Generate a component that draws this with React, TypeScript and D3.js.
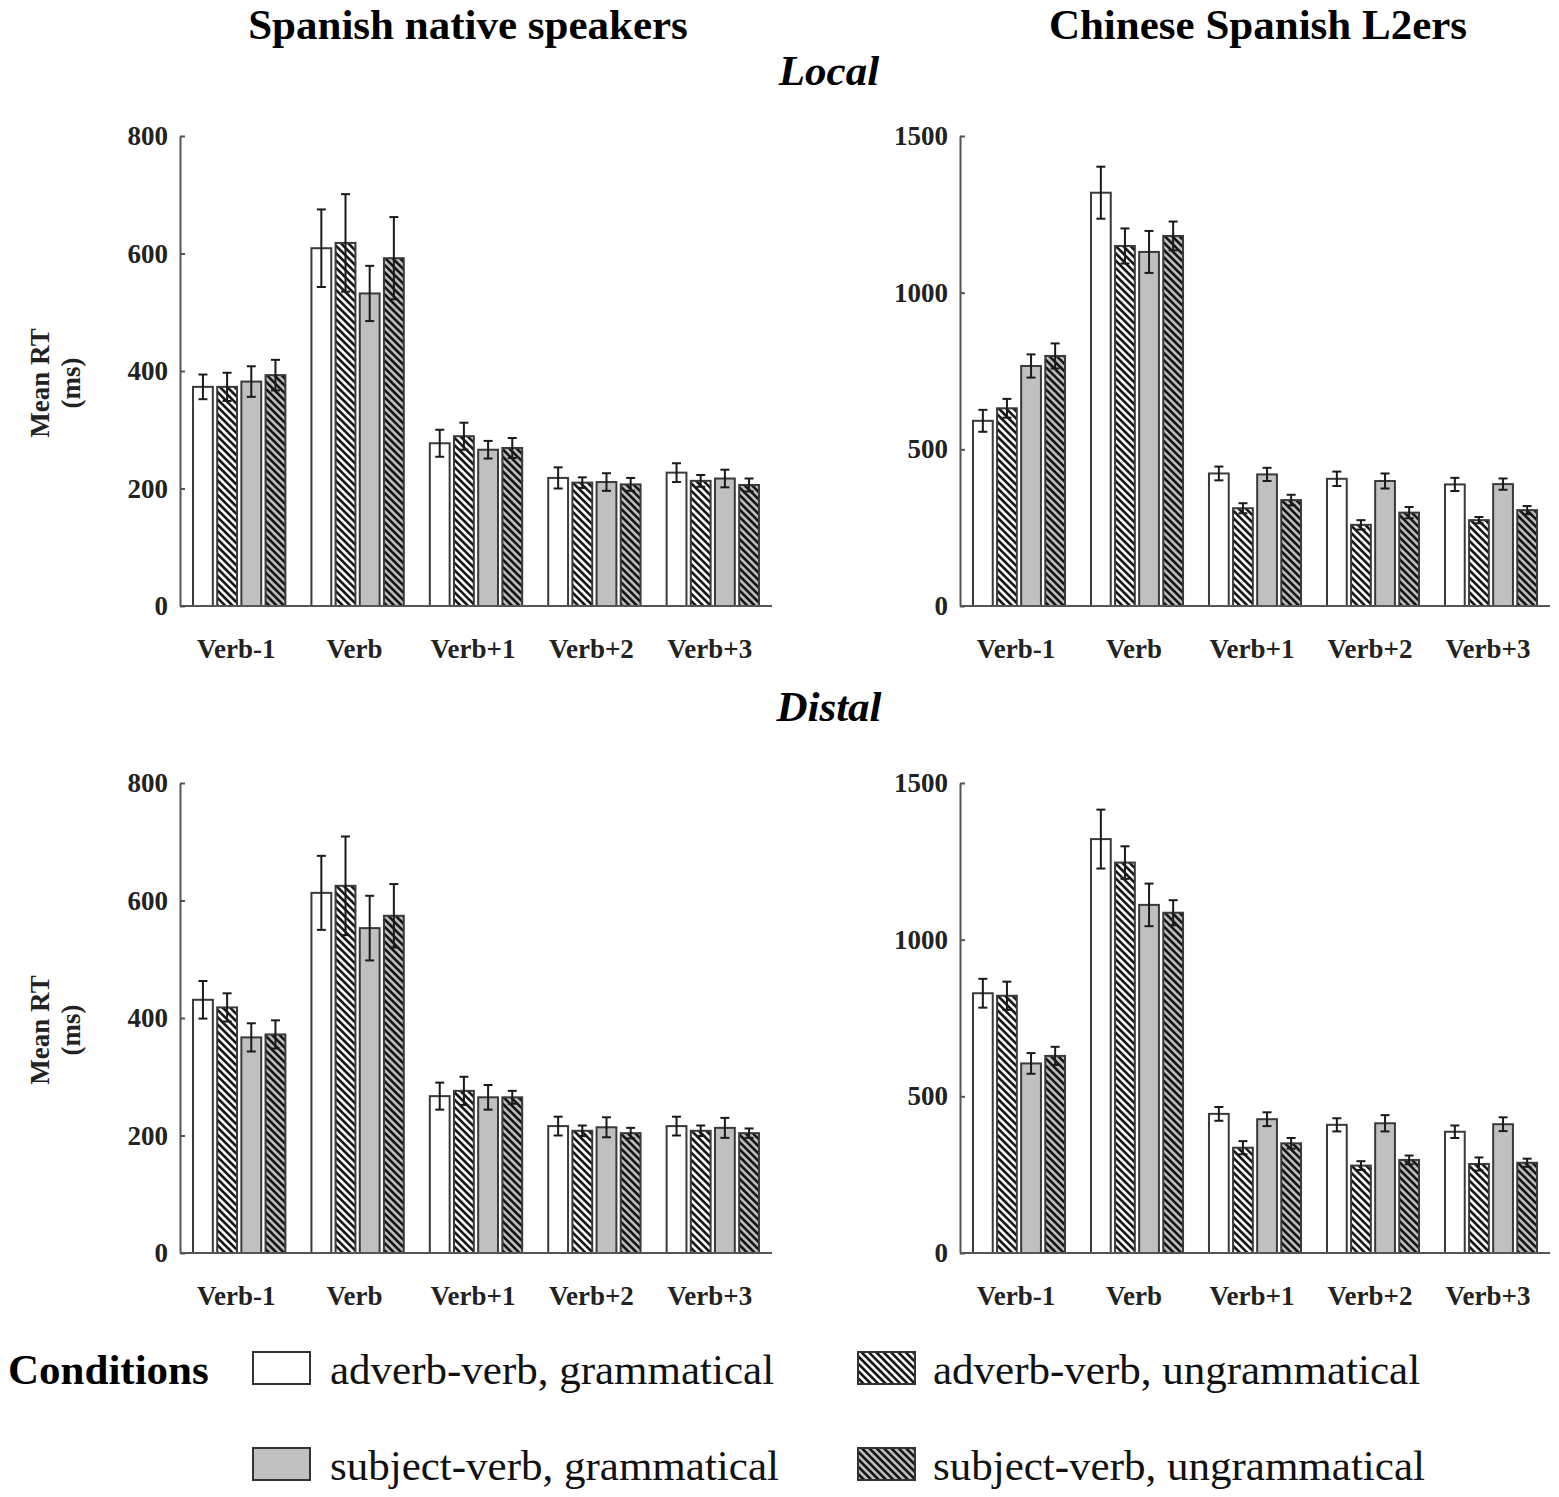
import { useRef, useEffect } from 'react';
import * as d3 from 'd3';

const REGIONS = ['Verb-1', 'Verb', 'Verb+1', 'Verb+2', 'Verb+3'];

const CONDITIONS = [
  'adverb-verb, grammatical',
  'adverb-verb, ungrammatical',
  'subject-verb, grammatical',
  'subject-verb, ungrammatical',
];

// Spanish native speakers, local (rows follow CONDITIONS, columns follow REGIONS)
const NATIVE_LOCAL_MEANS = [
  [373, 609, 277, 218, 227],
  [373, 618, 289, 210, 213],
  [382, 532, 266, 211, 217],
  [393, 592, 269, 207, 206],
];
const NATIVE_LOCAL_ERR = [
  [21, 66, 23, 18, 16],
  [24, 83, 23, 9, 10],
  [26, 47, 15, 15, 15],
  [26, 70, 17, 11, 11],
];

// Chinese Spanish L2ers, local
const L2_LOCAL_MEANS = [
  [591, 1319, 423, 406, 388],
  [631, 1149, 312, 259, 274],
  [766, 1130, 420, 399, 389],
  [798, 1181, 338, 298, 306],
];
const L2_LOCAL_ERR = [
  [35, 83, 22, 23, 21],
  [30, 56, 16, 15, 10],
  [37, 67, 21, 24, 18],
  [40, 46, 17, 18, 13],
];

// Spanish native speakers, distal
const NATIVE_DISTAL_MEANS = [
  [431, 613, 267, 216, 216],
  [418, 625, 276, 208, 208],
  [367, 553, 265, 214, 213],
  [372, 574, 265, 204, 204],
];
const NATIVE_DISTAL_ERR = [
  [32, 63, 23, 16, 16],
  [24, 84, 24, 9, 9],
  [24, 55, 21, 17, 17],
  [24, 54, 11, 9, 8],
];

// Chinese Spanish L2ers, distal
const L2_DISTAL_MEANS = [
  [829, 1321, 444, 409, 387],
  [821, 1246, 336, 279, 284],
  [605, 1111, 427, 414, 411],
  [629, 1086, 350, 297, 288],
];
const L2_DISTAL_ERR = [
  [46, 94, 22, 21, 20],
  [45, 52, 21, 14, 21],
  [33, 68, 22, 26, 22],
  [29, 40, 17, 14, 13],
];

const NATIVE_TICKS = [0, 200, 400, 600, 800];
const L2_TICKS = [0, 500, 1000, 1500];

const FILLS = ['#ffffff', 'url(#hatch)', '#c0c0c0', 'url(#hatch-gray)'];

const WIDTH = 1559;
const HEIGHT = 1497;
const FONT = '"Liberation Serif", "Times New Roman", Times, serif';

const PANELS = [
  { means: NATIVE_LOCAL_MEANS, err: NATIVE_LOCAL_ERR, ticks: NATIVE_TICKS, left: 180, right: 772, top: 136, bottom: 606, yLabel: true },
  { means: L2_LOCAL_MEANS, err: L2_LOCAL_ERR, ticks: L2_TICKS, left: 960, right: 1550, top: 136, bottom: 606, yLabel: false },
  { means: NATIVE_DISTAL_MEANS, err: NATIVE_DISTAL_ERR, ticks: NATIVE_TICKS, left: 180, right: 772, top: 783, bottom: 1253, yLabel: true },
  { means: L2_DISTAL_MEANS, err: L2_DISTAL_ERR, ticks: L2_TICKS, left: 960, right: 1550, top: 783, bottom: 1253, yLabel: false },
];

export default function App() {
  const svgRef = useRef<SVGSVGElement>(null);

  useEffect(() => {
    document.body.style.margin = '0';
    if (!svgRef.current) return;
    const svg = d3.select(svgRef.current);
    svg.selectAll('*').remove();

    svg.append('rect').attr('width', WIDTH).attr('height', HEIGHT).attr('fill', '#fff');

    // hatch patterns
    const defs = svg.append('defs');
    [
      { id: 'hatch', bg: '#ffffff' },
      { id: 'hatch-gray', bg: '#c0c0c0' },
    ].forEach((p) => {
      const pat = defs
        .append('pattern')
        .attr('id', p.id)
        .attr('patternUnits', 'userSpaceOnUse')
        .attr('width', 5.2)
        .attr('height', 10)
        .attr('patternTransform', 'rotate(-45)');
      pat.append('rect').attr('width', 5.2).attr('height', 10).attr('fill', p.bg);
      pat
        .append('line')
        .attr('x1', 1.4)
        .attr('x2', 1.4)
        .attr('y1', 0)
        .attr('y2', 10)
        .attr('stroke', '#111')
        .attr('stroke-width', 2.6);
    });

    PANELS.forEach((panel) => {
      const g = svg.append('g');
      const yMax = d3.max(panel.ticks) as number;
      const y = d3.scaleLinear().domain([0, yMax]).range([panel.bottom, panel.top]);
      const x0 = d3
        .scaleBand()
        .domain(REGIONS)
        .range([panel.left, panel.right])
        .paddingInner(0.22)
        .paddingOuter(0.11);
      const x1 = d3
        .scaleBand()
        .domain(CONDITIONS)
        .range([0, x0.bandwidth()])
        .paddingInner(0.18);

      // bars
      CONDITIONS.forEach((cond, ci) => {
        const vals = panel.means[ci].map((v, ri) => ({
          region: REGIONS[ri],
          v,
          e: panel.err[ci][ri],
        }));
        const bars = g.append('g');
        bars
          .selectAll('rect')
          .data(vals)
          .join('rect')
          .attr('x', (d) => (x0(d.region) as number) + (x1(cond) as number))
          .attr('y', (d) => y(d.v))
          .attr('width', x1.bandwidth())
          .attr('height', (d) => panel.bottom - y(d.v))
          .attr('fill', FILLS[ci])
          .attr('stroke', '#3a3a3a')
          .attr('stroke-width', 2);

        // error bars
        const eb = g.append('g').attr('stroke', '#1a1a1a').attr('stroke-width', 2);
        vals.forEach((d) => {
          const cx = (x0(d.region) as number) + (x1(cond) as number) + x1.bandwidth() / 2;
          const yt = y(d.v + d.e);
          const yb = y(d.v - d.e);
          eb.append('line').attr('x1', cx).attr('x2', cx).attr('y1', yt).attr('y2', yb);
          eb.append('line').attr('x1', cx - 4.5).attr('x2', cx + 4.5).attr('y1', yt).attr('y2', yt);
          eb.append('line').attr('x1', cx - 4.5).attr('x2', cx + 4.5).attr('y1', yb).attr('y2', yb);
        });
      });

      // y axis
      const yAxis = g
        .append('g')
        .attr('transform', `translate(${panel.left},0)`)
        .call(
          d3
            .axisLeft(y)
            .tickValues(panel.ticks)
            .tickSizeInner(-5)
            .tickSizeOuter(0)
            .tickPadding(12)
            .tickFormat(d3.format('d'))
        );
      yAxis.select('.domain').attr('stroke', '#555').attr('stroke-width', 2);
      yAxis.selectAll('.tick line').attr('stroke', '#555').attr('stroke-width', 2);
      yAxis
        .selectAll('text')
        .attr('fill', '#222')
        .attr('font-family', FONT)
        .attr('font-weight', 'bold')
        .attr('font-size', 27);

      // x axis line
      g.append('line')
        .attr('x1', panel.left)
        .attr('x2', panel.right)
        .attr('y1', panel.bottom)
        .attr('y2', panel.bottom)
        .attr('stroke', '#555')
        .attr('stroke-width', 2);

      // x labels
      g.selectAll('.xlab')
        .data(REGIONS)
        .join('text')
        .attr('class', 'xlab')
        .attr('x', (d) => (x0(d) as number) + x0.bandwidth() / 2 - 3)
        .attr('y', panel.bottom + 52)
        .attr('text-anchor', 'middle')
        .attr('font-family', FONT)
        .attr('font-weight', 'bold')
        .attr('font-size', 27)
        .attr('fill', '#222')
        .text((d) => d);

      // y label
      if (panel.yLabel) {
        const cy = (panel.top + panel.bottom) / 2 + 12;
        [
          { t: 'Mean RT', x: 49 },
          { t: '(ms)', x: 80 },
        ].forEach((l) => {
          g.append('text')
            .attr('transform', `translate(${l.x},${cy}) rotate(-90)`)
            .attr('text-anchor', 'middle')
            .attr('font-family', FONT)
            .attr('font-weight', 'bold')
            .attr('font-size', 27)
            .attr('fill', '#222')
            .text(l.t);
        });
      }
    });

    // titles
    const titles = [
      { t: 'Spanish native speakers', x: 468, y: 39, italic: false },
      { t: 'Chinese Spanish L2ers', x: 1258, y: 39, italic: false },
      { t: 'Local', x: 829, y: 85, italic: true },
      { t: 'Distal', x: 829, y: 721, italic: true },
    ];
    titles.forEach((d) => {
      svg
        .append('text')
        .attr('x', d.x)
        .attr('y', d.y)
        .attr('text-anchor', 'middle')
        .attr('font-family', FONT)
        .attr('font-weight', 'bold')
        .attr('font-style', d.italic ? 'italic' : 'normal')
        .attr('font-size', 43)
        .attr('fill', '#000')
        .text(d.t);
    });

    // legend
    svg
      .append('text')
      .attr('x', 8)
      .attr('y', 1384)
      .attr('font-family', FONT)
      .attr('font-weight', 'bold')
      .attr('font-size', 43)
      .attr('fill', '#000')
      .text('Conditions');

    const legendPos = [
      { bx: 253, tx: 330, by: 1352, ty: 1384 },
      { bx: 858, tx: 933, by: 1352, ty: 1384 },
      { bx: 253, tx: 330, by: 1448, ty: 1480 },
      { bx: 858, tx: 933, by: 1448, ty: 1480 },
    ];
    CONDITIONS.forEach((c, i) => {
      const p = legendPos[i];
      svg
        .append('rect')
        .attr('x', p.bx)
        .attr('y', p.by)
        .attr('width', 57)
        .attr('height', 32)
        .attr('fill', FILLS[i])
        .attr('stroke', '#333')
        .attr('stroke-width', 2);
      svg
        .append('text')
        .attr('x', p.tx)
        .attr('y', p.ty)
        .attr('font-family', FONT)
        .attr('font-size', 43)
        .attr('fill', '#111')
        .text(c);
    });
  }, []);

  return <svg ref={svgRef} width={WIDTH} height={HEIGHT} style={{ display: 'block' }} />;
}
